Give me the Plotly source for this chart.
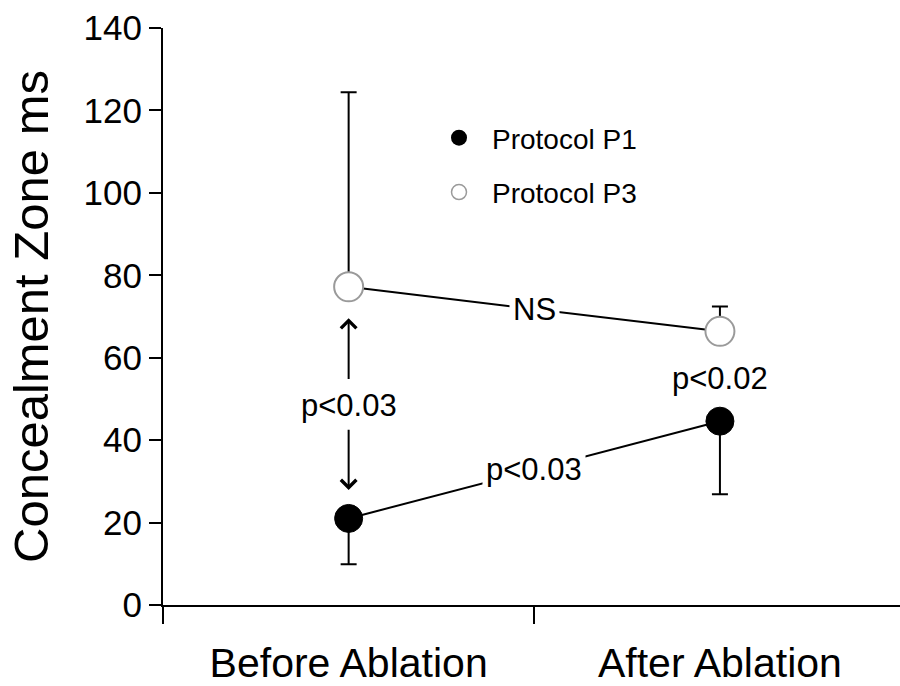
import plotly.graph_objects as go

categories = ["Before Ablation", "After Ablation"]
xpos = [0, 1]
p1_mean = [21.0, 44.6]
p1_err_minus = [11.1, 17.7]
p3_mean = [77.2, 66.4]
p3_err_plus = [47.2, 6.0]
y_ticks = [0, 20, 40, 60, 80, 100, 120, 140]

FONT = "Arial, Liberation Sans, Helvetica, sans-serif"

fig = go.Figure()

fig.add_trace(go.Scatter(
    x=xpos, y=p3_mean, mode="lines+markers", showlegend=False,
    line=dict(color="black", width=2),
    marker=dict(size=29, color="white", line=dict(color="#9a9a9a", width=2)),
    error_y=dict(type="data", symmetric=False, array=p3_err_plus,
                 arrayminus=[0, 0], color="black", thickness=2, width=8),
))
fig.add_trace(go.Scatter(
    x=xpos, y=p1_mean, mode="lines+markers", showlegend=False,
    line=dict(color="black", width=2),
    marker=dict(size=28, color="black", line=dict(color="black", width=1)),
    error_y=dict(type="data", symmetric=False, array=[0, 0],
                 arrayminus=p1_err_minus, color="black", thickness=2, width=8),
))

# legend entries
fig.add_trace(go.Scatter(
    x=[None], y=[None], mode="markers", name="Protocol P1", legendgroup="a",
    marker=dict(size=22, color="black"),
))
fig.add_trace(go.Scatter(
    x=[None], y=[None], mode="markers", name="Protocol P3", legendgroup="b",
    marker=dict(size=15, color="white", line=dict(color="#9a9a9a", width=1.5)),
))

ann_font = dict(family=FONT, size=31, color="black")
annotations = [
    dict(x=0.5, y=(p3_mean[0] + p3_mean[1]) / 2, text="NS", showarrow=False,
         bgcolor="white", borderpad=3, font=ann_font),
    dict(x=0.5, y=(p1_mean[0] + p1_mean[1]) / 2, text="p<0.03", showarrow=False,
         bgcolor="white", borderpad=3, font=ann_font),
    dict(x=1, y=p1_mean[1] + 10.4, text="p<0.02", showarrow=False, font=ann_font),
    dict(x=0, y=48.5, text="p<0.03", showarrow=False, font=ann_font),
    dict(x=0, y=69.6, ax=0, ay=54.5, axref="x", ayref="y", text="",
         showarrow=True, arrowhead=4, arrowwidth=2, arrowsize=1.5, arrowcolor="black"),
    dict(x=0, y=27.9, ax=0, ay=42.9, axref="x", ayref="y", text="",
         showarrow=True, arrowhead=4, arrowwidth=2, arrowsize=1.5, arrowcolor="black"),
]

fig.update_layout(
    width=900, height=686,
    margin=dict(l=163, r=0, t=28, b=81, autoexpand=False),
    paper_bgcolor="white", plot_bgcolor="white",
    font=dict(family=FONT, color="black"),
    annotations=annotations,
    legend=dict(x=(426 - 163) / 737, y=(605 - 113) / 577,
                xanchor="left", yanchor="top", font=dict(family=FONT, size=28),
                itemwidth=56, tracegroupgap=15, traceorder="grouped",
                bgcolor="rgba(0,0,0,0)"),
    xaxis=dict(
        range=[-0.5, 1.485], tickvals=xpos, ticktext=categories, ticks="",
        tickfont=dict(family=FONT, size=41), ticklabelstandoff=21,
        showline=True, linecolor="black", linewidth=2, showgrid=False, zeroline=False,
        minor=dict(tick0=-0.5, dtick=1, ticks="outside", ticklen=17, tickwidth=2,
                   tickcolor="black", showgrid=False),
    ),
    yaxis=dict(
        range=[0, 140], tickvals=y_ticks, ticks="outside", ticklen=12, tickwidth=2,
        tickcolor="black", tickfont=dict(family=FONT, size=35),
        showline=True, linecolor="black", linewidth=2, showgrid=False, zeroline=False,
        title=dict(text="Concealment Zone ms", font=dict(family=FONT, size=49), standoff=19),
    ),
)

fig.write_html("out.html")
